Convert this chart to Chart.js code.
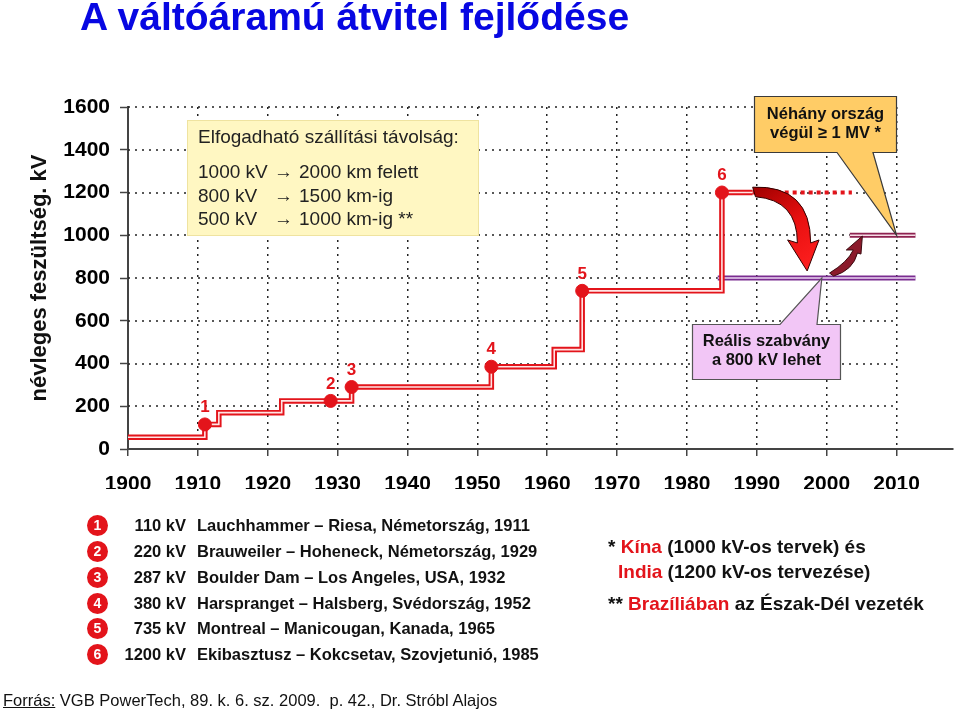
<!DOCTYPE html>
<html lang="hu">
<head>
<meta charset="utf-8">
<title>A váltóáramú átvitel fejlődése</title>
<script src="https://cdn.jsdelivr.net/npm/chart.js@4.4.1/dist/chart.umd.min.js"></script>
<style>
  body { margin: 0; background: #fff; font-family: "Liberation Sans", Arial, sans-serif; }
  #wrap { position: relative; width: 960px; height: 712px; overflow: hidden; }
  #wrap canvas { position: absolute; left: 0; top: 0; }
  .t { position: absolute; white-space: nowrap; color: #111; }
  .title { left: 80px; top: -5px; font-size: 39px; line-height: 44px; font-weight: bold; color: #0707E2; }
  .box { font-size: 19px; line-height: 22px; color: #222; }
  .call { font-size: 16.5px; line-height: 19px; font-weight: bold; text-align: center; color: #111; }
  .row { font-size: 16.5px; line-height: 20px; font-weight: bold; }
  .kv { left: 110px; width: 76px; text-align: right; }
  .route { left: 197px; }
  .num { position: absolute; width: 21px; height: 21px; border-radius: 50%; background: #E3141B;
         color: #fff; font-size: 14px; line-height: 21px; font-weight: bold; text-align: center; }
  .note { font-size: 19px; line-height: 22px; font-weight: bold; }
  .red { color: #E3141B; }
  .src { left: 3px; top: 690px; font-size: 16.5px; line-height: 20px; }
</style>
</head>
<body>
<div id="wrap">
  <canvas id="stepChart" width="960" height="712"></canvas>
  <div class="t title">A váltóáramú átvitel fejlődése</div>

  <div class="t box" style="left:198px; top:126px;">Elfogadható szállítási távolság:</div>
  <div class="t box" style="left:198px; top:161px;">1000 kV</div>
  <div class="t box" style="left:274px; top:161px;">→</div>
  <div class="t box" style="left:299px; top:161px;">2000 km felett</div>
  <div class="t box" style="left:198px; top:185px;">800 kV</div>
  <div class="t box" style="left:274px; top:185px;">→</div>
  <div class="t box" style="left:299px; top:185px;">1500 km-ig</div>
  <div class="t box" style="left:198px; top:208px;">500 kV</div>
  <div class="t box" style="left:274px; top:208px;">→</div>
  <div class="t box" style="left:299px; top:208px;">1000 km-ig **</div>

  <div class="t call" style="left:754px; width:143px; top:104px;">Néhány ország<br>végül ≥ 1 MV *</div>
  <div class="t call" style="left:692px; width:149px; top:331px;">Reális szabvány<br>a 800 kV lehet</div>

  <div id="list"></div>

  <div class="t note" style="left:608px; top:536px;">* <span class="red">Kína</span> (1000 kV-os tervek) és</div>
  <div class="t note" style="left:618px; top:561px;"><span class="red">India</span> (1200 kV-os tervezése)</div>
  <div class="t note" style="left:608px; top:593px;">** <span class="red">Brazíliában</span> az Észak-Dél vezeték</div>

  <div class="t src"><u>Forrás:</u> VGB PowerTech, 89. k. 6. sz. 2009.&nbsp; p. 42., Dr. Stróbl Alajos</div>
</div>
<script>
// lépcsős görbe: év, kV (a töréspontok)
var stepYears = [1900, 1911, 1913, 1922, 1932, 1952, 1961, 1965, 1985, 1989.4];
var stepKv = [55, 115, 170, 225, 290, 385, 465, 740, 1200, 1200];

// számozott mérföldkövek
var milestoneYears = [1911, 1929, 1932, 1952, 1965, 1985];
var milestoneKv = [115, 225, 290, 385, 740, 1200];
var milestoneLabels = ["1", "2", "3", "4", "5", "6"];

// tervezett / javasolt szintek
var plannedYears = [1989.4, 2003.6];
var plannedKv = [1200, 1200];
var realYears = [1984.4, 2012.7];
var realKv = [800, 800];
var mvYears = [2003.3, 2012.7];
var mvKv = [1000, 1000];

var yearTicks = [1900, 1910, 1920, 1930, 1940, 1950, 1960, 1970, 1980, 1990, 2000, 2010];
var kvTicks = [0, 200, 400, 600, 800, 1000, 1200, 1400, 1600];

// lista a grafikon alatt
var listKv = ["110 kV", "220 kV", "287 kV", "380 kV", "735 kV", "1200 kV"];
var listRoutes = [
  "Lauchhammer – Riesa, Németország, 1911",
  "Brauweiler – Hoheneck, Németország, 1929",
  "Boulder Dam – Los Angeles, USA, 1932",
  "Harspranget – Halsberg, Svédország, 1952",
  "Montreal – Manicougan, Kanada, 1965",
  "Ekibasztusz – Kokcsetav, Szovjetunió, 1985"
];
var listRowY = [525, 551, 577, 603, 628, 654];

var RED = "#E3141B";

function pts(xs, ys) {
  return xs.map(function (x, i) { return { x: x, y: ys[i] }; });
}

// lista felépítése
var list = document.getElementById("list");
listKv.forEach(function (kv, i) {
  var y = listRowY[i];
  list.insertAdjacentHTML("beforeend",
    '<div class="num" style="left:87px; top:' + (y - 10) + 'px;">' + (i + 1) + '</div>' +
    '<div class="t row kv" style="top:' + (y - 10) + 'px;">' + kv + '</div>' +
    '<div class="t row route" style="top:' + (y - 10) + 'px;">' + listRoutes[i] + '</div>');
});

function px(chart, yr, kv) {
  return [chart.scales.x.getPixelForValue(yr), chart.scales.y.getPixelForValue(kv)];
}

// vízszintes pontozott rácsvonalak csak 2010-ig
var kvGrid = {
  id: "kvGrid",
  beforeDatasetsDraw: function (chart) {
    var c = chart.ctx, x = chart.scales.x, y = chart.scales.y;
    c.save();
    c.strokeStyle = "#222";
    c.lineWidth = 1.5;
    c.setLineDash([2, 5]);
    kvTicks.forEach(function (v) {
      if (v === 0) return;
      var py = Math.round(y.getPixelForValue(v));
      c.beginPath();
      c.moveTo(x.getPixelForValue(1900), py);
      c.lineTo(x.getPixelForValue(2010), py);
      c.stroke();
    });
    c.restore();
  }
};

function shape(chart, c, list) {
  c.beginPath();
  list.forEach(function (s) {
    if (s[0] === "M") { var p = px(chart, s[1], s[2]); c.moveTo(p[0], p[1]); }
    else if (s[0] === "L") { var q = px(chart, s[1], s[2]); c.lineTo(q[0], q[1]); }
    else if (s[0] === "Q") {
      var a = px(chart, s[1], s[2]), b = px(chart, s[3], s[4]);
      c.quadraticCurveTo(a[0], a[1], b[0], b[1]);
    }
  });
  c.closePath();
}

// szövegdobozok, nyilak, számok
var annotations = {
  id: "annotations",
  afterDatasetsDraw: function (chart) {
    var c = chart.ctx;
    c.save();

    // sárga doboz
    c.fillStyle = "#FFF7C2";
    c.fillRect(187, 120, 292, 116);
    c.strokeStyle = "#EFE3A0";
    c.lineWidth = 1;
    c.strokeRect(187.5, 120.5, 291, 115);

    // narancs doboz, mutató az 1000 kV-os szintre
    var tip = px(chart, 2010, 1000);
    c.beginPath();
    c.moveTo(754.5, 96.5); c.lineTo(896.5, 96.5); c.lineTo(896.5, 152.5);
    c.lineTo(873, 152.5); c.lineTo(tip[0], tip[1]); c.lineTo(837, 152.5);
    c.lineTo(754.5, 152.5); c.closePath();
    c.fillStyle = "#FFCC66"; c.fill();
    c.strokeStyle = "#3A3A3A"; c.lineWidth = 1.2; c.stroke();

    // lila doboz, mutató a 800 kV-os szintre
    var tip2 = px(chart, 1999.3, 800);
    c.beginPath();
    c.moveTo(692.5, 324.5); c.lineTo(780, 324.5); c.lineTo(tip2[0], tip2[1]);
    c.lineTo(817, 324.5); c.lineTo(840.5, 324.5); c.lineTo(840.5, 379.5);
    c.lineTo(692.5, 379.5); c.closePath();
    c.fillStyle = "#F2C6F6"; c.fill();
    c.strokeStyle = "#555"; c.lineWidth = 1.2; c.stroke();

    // nagy ívelt nyíl 1200 -> 800
    shape(chart, c, [
      ["M", 1989.4, 1225], ["Q", 1997.7, 1235, 1997.7, 964],
      ["L", 1998.9, 978], ["L", 1997.2, 833], ["L", 1994.4, 978],
      ["L", 1995.8, 964], ["Q", 1995.8, 1165, 1989.8, 1180]
    ]);
    var g = c.createLinearGradient(757, 186, 812, 270);
    g.addColorStop(0, "#A00000");
    g.addColorStop(0.5, "#E81010");
    g.addColorStop(1, "#FF2020");
    c.fillStyle = g; c.fill();
    c.strokeStyle = "#300"; c.lineWidth = 1; c.stroke();

    // kis nyíl 800 -> 1000
    shape(chart, c, [
      ["M", 2000.4, 823], ["Q", 2003.0, 875, 2003.8, 931],
      ["L", 2002.8, 931], ["L", 2005.1, 996], ["L", 2004.9, 912],
      ["L", 2004.4, 917], ["Q", 2003.8, 837, 2001.0, 809]
    ]);
    c.fillStyle = "#8B1A2B"; c.fill();
    c.strokeStyle = "#3A0A10"; c.lineWidth = 1; c.stroke();

    // mérföldkő számok
    var meta = chart.getDatasetMeta(0);
    c.fillStyle = RED;
    c.font = "bold 17px 'Liberation Sans', Arial, sans-serif";
    c.textAlign = "center";
    c.textBaseline = "middle";
    meta.data.forEach(function (el, i) {
      c.fillText(milestoneLabels[i], el.x, el.y - 17);
    });
    c.restore();
  }
};

var tickFont = { family: "'Liberation Sans', Arial, sans-serif", size: 21, weight: "bold" };

var ctx = document.getElementById("stepChart");
var stepChart = new Chart(ctx, {
  type: "line",
  data: {
    datasets: [{
      label: "mérföldkövek",
      data: pts(milestoneYears, milestoneKv),
      showLine: false,
      pointRadius: 6.5,
      pointBackgroundColor: RED,
      pointBorderColor: RED,
      order: 0
    }, {
      label: "belső",
      data: pts(stepYears, stepKv),
      stepped: true,
      borderColor: "#FFE4E4",
      borderWidth: 1.6,
      pointRadius: 0,
      order: 1
    }, {
      label: "névleges feszültség",
      data: pts(stepYears, stepKv),
      stepped: true,
      borderColor: RED,
      borderWidth: 5.5,
      pointRadius: 0,
      order: 2
    }, {
      label: "tervezett",
      data: pts(plannedYears, plannedKv),
      borderColor: RED,
      borderWidth: 4,
      borderDash: [4, 4],
      pointRadius: 0,
      order: 3
    }, {
      label: "800 belső",
      data: pts(realYears, realKv),
      borderColor: "#EBD6F2",
      borderWidth: 1.4,
      pointRadius: 0,
      order: 4
    }, {
      label: "800 kV",
      data: pts(realYears, realKv),
      borderColor: "#7A2C90",
      borderWidth: 5,
      pointRadius: 0,
      order: 5
    }, {
      label: "1000 belső",
      data: pts(mvYears, mvKv),
      borderColor: "#F6DCE6",
      borderWidth: 1.4,
      pointRadius: 0,
      order: 6
    }, {
      label: "1000 kV",
      data: pts(mvYears, mvKv),
      borderColor: "#8E2250",
      borderWidth: 5,
      pointRadius: 0,
      order: 7
    }]
  },
  options: {
    responsive: false,
    animation: false,
    layout: { padding: { left: 0, top: 107, right: 2, bottom: 223 } },
    plugins: {
      legend: { display: false },
      tooltip: { enabled: false }
    },
    scales: {
      x: {
        type: "linear",
        min: 1900,
        max: 2018,
        afterBuildTicks: function (s) { s.ticks = yearTicks.map(function (v) { return { value: v }; }); },
        afterFit: function (s) { s.height = 40; },
        ticks: {
          font: tickFont,
          color: "#000",
          padding: 16,
          maxRotation: 0,
          autoSkip: false,
          callback: function (v) { return String(v); }
        },
        grid: {
          color: "#222",
          lineWidth: 1.5,
          tickLength: 7,
          tickColor: "#444",
          tickWidth: 1.5
        },
        border: { color: "#444", width: 2, dash: [2, 5] }
      },
      y: {
        min: 0,
        max: 1600,
        afterBuildTicks: function (s) { s.ticks = kvTicks.map(function (v) { return { value: v }; }); },
        afterFit: function (s) { s.width = 128; },
        ticks: {
          font: tickFont,
          color: "#000",
          padding: 10,
          callback: function (v) { return String(v); }
        },
        grid: {
          drawOnChartArea: false,
          tickLength: 8,
          tickColor: "#444",
          tickWidth: 1.5
        },
        border: { color: "#444", width: 2 },
        title: {
          display: true,
          text: "névleges feszültség. kV",
          color: "#111",
          font: { family: "'Liberation Sans', Arial, sans-serif", size: 22, weight: "bold" },
          padding: { top: 27, bottom: 0 }
        }
      }
    }
  },
  plugins: [kvGrid, annotations]
});
</script>
</body>
</html>
